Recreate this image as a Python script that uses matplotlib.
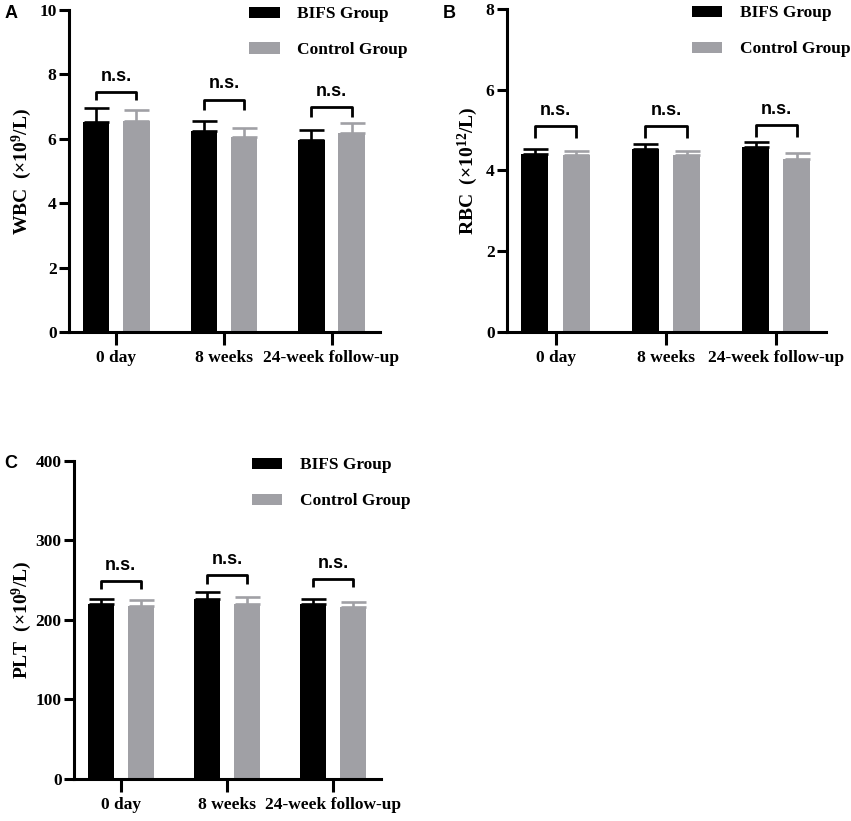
import numpy as np
import matplotlib
matplotlib.use('Agg')
from matplotlib import pyplot as plt

categories = ['0 day', '8 weeks', '24-week follow-up']
groups = ['BIFS Group', 'Control Group']

# panel A - WBC
wbc_bifs = [6.52, 6.25, 5.97]
wbc_bifs_err = [0.44, 0.31, 0.31]
wbc_ctrl = [6.56, 6.06, 6.19]
wbc_ctrl_err = [0.33, 0.28, 0.30]

# panel B - RBC
rbc_bifs = [4.41, 4.53, 4.59]
rbc_bifs_err = [0.12, 0.12, 0.12]
rbc_ctrl = [4.38, 4.38, 4.28]
rbc_ctrl_err = [0.11, 0.11, 0.15]

# panel C - PLT
plt_bifs = [220.5, 226.4, 220.5]
plt_bifs_err = [6.5, 8.4, 6.5]
plt_ctrl = [217.6, 220.5, 216.4]
plt_ctrl_err = [7.4, 8.5, 6.2]

# bracket heights for the n.s. marks (top, leg bottom)
wbc_brackets = [(7.44, 7.2), (7.22, 6.9), (7.0, 6.68)]
rbc_brackets = [(5.1, 4.81), (5.1, 4.81), (5.13, 4.84)]
plt_brackets = [(249, 239), (256.6, 245), (251, 241)]

black = '#000000'
grey = '#a0a0a5'
serif = 'Liberation Serif'
sans = 'Liberation Sans'

fig = plt.figure(figsize=(8.51, 8.21), dpi=100)


def draw_panel(rect, letter, letter_xy, bifs, bifs_err, ctrl, ctrl_err, brackets,
               ymax, yticks, ylabel, lab_x):
    ax = fig.add_axes(rect)
    x = np.arange(len(categories))
    off = 0.187
    w = 0.245
    ax.bar(x - off, bifs, w, color=black, label=groups[0], zorder=2)
    ax.bar(x + off, ctrl, w, color=grey, label=groups[1], zorder=2)
    ax.errorbar(x - off, bifs, yerr=[np.zeros(3), bifs_err], fmt='none',
                ecolor=black, elinewidth=1.9, capsize=9, capthick=1.9, zorder=1)
    ax.errorbar(x + off, ctrl, yerr=[np.zeros(3), ctrl_err], fmt='none',
                ecolor=grey, elinewidth=1.9, capsize=9, capthick=1.9, zorder=1)

    for i, (top, bot) in enumerate(brackets):
        ax.plot([i - off, i - off, i + off, i + off], [bot, top, top, bot],
                color=black, lw=2.0, solid_capstyle='butt')
        ax.text(i, top + ymax * 0.022, 'n.s.', ha='center', va='bottom',
                fontsize=13, fontweight='bold', family=sans)

    ax.set_xlim(-0.44, 2.45)
    ax.set_ylim(0, ymax)
    ax.set_yticks(yticks)
    ax.set_xticks(x)
    ax.set_xticklabels(categories)
    for lab in ax.get_xticklabels() + ax.get_yticklabels():
        lab.set_fontfamily(serif)
        lab.set_fontweight('bold')
        lab.set_fontsize(12.5)
    ax.tick_params(axis='y', length=7, width=2.2, pad=2)
    ax.tick_params(axis='x', length=9, width=2.2, pad=4)
    for s in ['top', 'right']:
        ax.spines[s].set_visible(False)
    for s in ['left', 'bottom']:
        ax.spines[s].set_linewidth(2.2)
    ax.set_ylabel(ylabel, fontsize=14, fontweight='bold', family=serif)
    ax.yaxis.set_label_coords(lab_x, 0.5)

    ax.legend(loc='upper left', bbox_to_anchor=(0.58, 1.012), frameon=False,
              borderpad=0, borderaxespad=0,
              prop={'family': serif, 'weight': 'bold', 'size': 12.5},
              handlelength=1.75, handleheight=0.6, handletextpad=1.0,
              labelspacing=1.15)
    fig.text(letter_xy[0], letter_xy[1], letter,
             fontsize=13, fontweight='bold', family=sans, va='center')
    return ax


draw_panel([0.0811, 0.5956, 0.3654, 0.3922], 'A', (0.005, 1 - 14 / 821),
           wbc_bifs, wbc_bifs_err, wbc_ctrl, wbc_ctrl_err, wbc_brackets,
           10, [0, 2, 4, 6, 8, 10], 'WBC  (×10$\\mathregular{^{9}}$/L)', -0.114)
draw_panel([0.5958, 0.596, 0.3748, 0.3927], 'B', (443 / 851, 1 - 14 / 821),
           rbc_bifs, rbc_bifs_err, rbc_ctrl, rbc_ctrl_err, rbc_brackets,
           8, [0, 2, 4, 6, 8], 'RBC  (×10$\\mathregular{^{12}}$/L)', -0.084)
draw_panel([0.087, 0.0512, 0.3607, 0.3873], 'C', (0.005, 1 - 464 / 821),
           plt_bifs, plt_bifs_err, plt_ctrl, plt_ctrl_err, plt_brackets,
           400, [0, 100, 200, 300, 400], 'PLT  (×10$\\mathregular{^{9}}$/L)', -0.132)

fig.savefig('out.png', dpi=100)
